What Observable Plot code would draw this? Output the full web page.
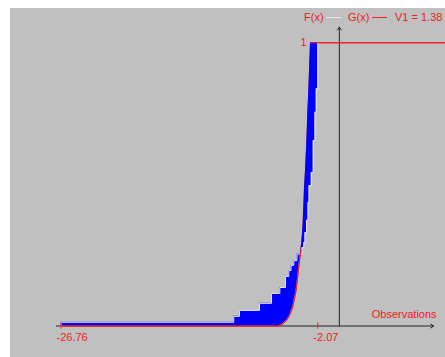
<!DOCTYPE html>
<html><head><meta charset="utf-8">
<script src="https://cdn.jsdelivr.net/npm/d3@7"></script>
<script src="https://cdn.jsdelivr.net/npm/@observablehq/plot@0.6"></script>
<style>
body{margin:0;background:#fff;}
#wrap{position:relative;width:445px;height:357px;overflow:hidden;}
#bg{position:absolute;left:10px;top:8px;width:435px;height:349px;background:#c0c0c0;}
#chart{position:absolute;left:0;top:0;}
.leg{position:absolute;top:11.5px;font:11px/11px "Liberation Sans",Arial,sans-serif;color:#f02020;white-space:nowrap;}
.sw{position:absolute;height:1px;top:17px;}
</style></head><body>
<div id="wrap"><div id="bg"></div><div id="chart"></div>
<div class="leg" style="left:304px">F(x)</div>
<div class="sw" style="left:326px;width:15px;background:#e8e8e8"></div>
<div class="leg" style="left:348px">G(x)</div>
<div class="sw" style="left:372px;width:15px;background:#ff2020"></div>
<div class="leg" style="left:395px">V1 = 1.38</div>
</div>
<script>
// Empirical F(x): jump positions and levels after each jump
const fStepX = [-26.76, -10.15, -9.60, -7.67, -6.52, -5.72, -5.17, -4.86, -4.64, -4.38, -4.07, -3.59, -3.41, -3.30, -3.15, -3.01, -2.91, -2.70, -2.51, -2.34, -2.22, -2.07];
const fLevel = [0.013, 0.034, 0.055, 0.080, 0.115, 0.136, 0.175, 0.196, 0.214, 0.231, 0.254, 0.277, 0.295, 0.330, 0.373, 0.436, 0.496, 0.542, 0.655, 0.755, 0.838, 1];
// Smooth G(x)
const gX = [-26.76, -5.85, -5.46, -5.08, -4.79, -4.50, -4.31, -4.16, -4.02, -3.92, -3.80, -3.70, -3.59, -3.49, -3.41, -3.35, -3.25, -3.17, -3.09, -3.03, -2.93, -2.85, -2.77, 10.3];
const gY = [0, 0, 0.007, 0.019, 0.037, 0.065, 0.097, 0.125, 0.168, 0.203, 0.239, 0.267, 0.302, 0.355, 0.425, 0.486, 0.549, 0.613, 0.684, 0.754, 0.832, 0.920, 1, 1];
const tickValues = [-26.76, -2.07];
const tickLabels = ["-26.76", "-2.07"];
const xAxisSpan = [-27.2, 9.06];
const yAxisSpan = [0, 1.055];
const axisLabel = "Observations";

const RED = "#f02020";
const FONT = "Liberation Sans, Arial, sans-serif";

// staircase vertices of F
const fPts = [{x: fStepX[0], y: 0}];
fStepX.forEach((x, i) => {
  if (i > 0) fPts.push({x, y: fLevel[i - 1]});
  fPts.push({x, y: fLevel[i]});
});
const gPts = gX.map((x, i) => ({x, y: gY[i]}));
const gArea = gPts.filter(d => d.x <= fStepX[fStepX.length - 1]);
const gLower = gPts.filter(d => d.x <= -3.70);
const gTop = gPts.filter(d => d.y >= 1);
const n = Math.max(fPts.length, gArea.length);
const areaRows = d3.range(n).map(i => {
  const f = fPts[Math.min(i, fPts.length - 1)];
  const g = gArea[Math.min(i, gArea.length - 1)];
  return {fx: f.x, fy: f.y, gx: g.x, gy: g.y};
});

const chart = Plot.plot({
  width: 445, height: 357,
  style: {background: "transparent", overflow: "visible"},
  x: {domain: [tickValues[0], tickValues[1]], range: [60.5, 317.3]},
  y: {domain: [0, 1], range: [325.5, 42.3]},
  axis: null,
  marks: [
    Plot.arrow([{}], {x1: xAxisSpan[0], x2: xAxisSpan[1], y1: 0, y2: 0, stroke: "#222", strokeWidth: 1, headLength: 5, headAngle: 70}),
    Plot.arrow([{}], {x1: 0, x2: 0, y1: yAxisSpan[0], y2: yAxisSpan[1], stroke: "#222", strokeWidth: 1, headLength: 5, headAngle: 70}),
    Plot.line(gPts, {x: "x", y: "y", stroke: RED, strokeWidth: 1}),
    Plot.area(areaRows, {x1: "gx", y1: "gy", x2: "fx", y2: "fy", fill: "#0000ff"}),
    Plot.line(fPts, {x: "x", y: "y", stroke: "#e4e4ec", strokeWidth: 1}),
    Plot.line(gLower, {x: "x", y: "y", stroke: RED, strokeWidth: 1}),
    Plot.line(gTop, {x: "x", y: "y", stroke: RED, strokeWidth: 1}),
    Plot.ruleX(tickValues, {x: d => d, y1: -0.011, y2: 0.011, stroke: RED}),
    Plot.text(tickValues, {x: d => d, y: 0, text: (d, i) => tickLabels[i], textAnchor: "start", lineAnchor: "bottom", dx: -4.5, dy: 14.5, fill: RED, fontSize: 11, fontFamily: FONT, style: "letter-spacing:0.8px"}),
    Plot.text([axisLabel], {x: xAxisSpan[1], y: 0, text: d => d, textAnchor: "end", lineAnchor: "bottom", dx: 3, dy: -8.5, fill: RED, fontSize: 11, fontFamily: FONT}),
    Plot.text(["1"], {x: gX[gX.length - 2], y: 1, text: d => d, textAnchor: "end", dx: -4, fill: RED, fontSize: 11, fontFamily: FONT})
  ]
});
document.getElementById("chart").appendChild(chart);
</script>
</body></html>
